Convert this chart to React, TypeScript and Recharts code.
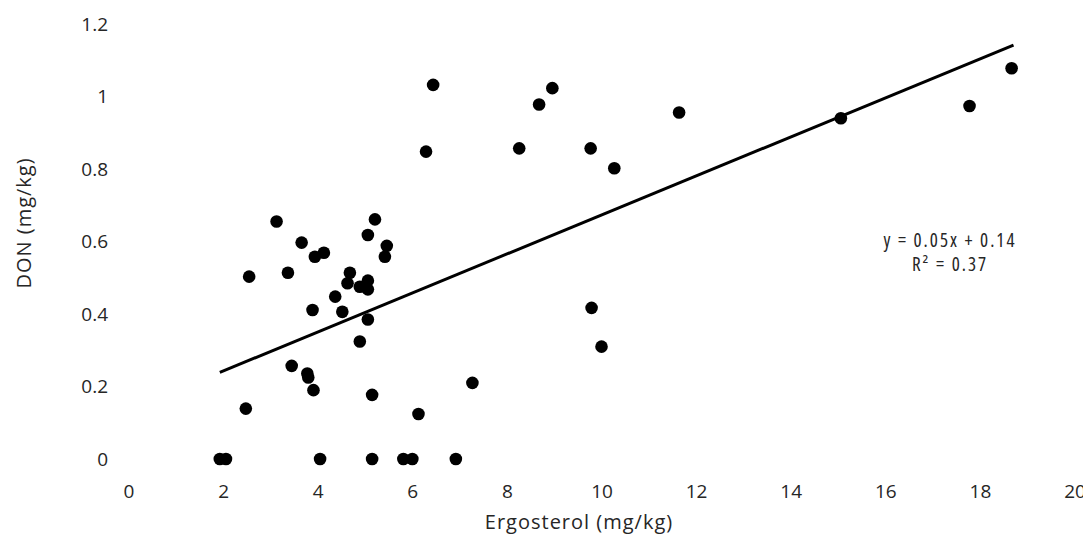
import React from "react";
import { ScatterChart, Scatter, XAxis, YAxis } from "recharts";

const ergosterol = [
  1.92, 2.05, 2.47, 2.54, 3.12, 3.36, 3.44, 3.65, 3.77, 3.79, 3.88, 3.9, 3.93, 4.04, 4.12, 4.36,
  4.51, 4.62, 4.67, 4.88, 4.88, 5.05, 5.05, 5.05, 5.05, 5.14, 5.14, 5.2, 5.41, 5.45, 5.8, 5.99,
  6.12, 6.28, 6.43, 6.91, 7.26, 8.25, 8.67, 8.95, 9.76, 9.78, 9.99, 10.26, 11.63, 15.05, 17.77, 18.66,
];
const don = [
  0, 0, 0.139, 0.503, 0.655, 0.514, 0.257, 0.597, 0.236, 0.225, 0.411, 0.19, 0.558, 0, 0.569, 0.448,
  0.406, 0.485, 0.514, 0.475, 0.324, 0.618, 0.492, 0.468, 0.385, 0.177, 0, 0.661, 0.558, 0.588, 0, 0,
  0.124, 0.848, 1.032, 0, 0.21, 0.857, 0.978, 1.023, 0.857, 0.417, 0.31, 0.802, 0.956, 0.94, 0.974, 1.078,
];
const trendX = [1.92, 18.7];
const trendY = [0.239, 1.142];
const xTicks = [0, 2, 4, 6, 8, 10, 12, 14, 16, 18, 20];
const yTicks = [0, 0.2, 0.4, 0.6, 0.8, 1, 1.2];
const xLabel = "Ergosterol (mg/kg)";
const yLabel = "DON (mg/kg)";
const eqLine1 = "y = 0.05x + 0.14";
const eqLine2 = "R\u00B2 = 0.37";

const points = ergosterol.map((x, i) => ({ x, y: don[i] }));
const trend = trendX.map((x, i) => ({ x, y: trendY[i] }));

const FONT = "'Open Sans', sans-serif";
const TXT = "#262626";

const Dot = (p: any) => <circle cx={p.cx} cy={p.cy} r={6.3} fill="#000" />;
const NoShape = () => <g />;

export default function App() {
  return (
    <div style={{ width: 1083, height: 532, fontFamily: FONT }}>
      <ScatterChart width={1083} height={532} margin={{ top: 16, right: 16, left: 0, bottom: 0 }}>
        <XAxis
          type="number"
          dataKey="x"
          domain={[0, 20]}
          ticks={xTicks}
          axisLine={false}
          tickLine={false}
          tickSize={0}
          tickMargin={26}
          height={81}
          interval={0}
          tick={{ fill: TXT, fontSize: 19, fontFamily: FONT }}
          label={{
            content: (props: any) => {
              const vb = props.viewBox || { x: 121, y: 451 };
              return (
                <text
                  x={vb.x + 450}
                  y={vb.y + 70}
                  textAnchor="middle"
                  fill={TXT}
                  fontSize={20}
                  letterSpacing={1}
                  style={{ fontFamily: FONT }}
                >
                  {xLabel}
                </text>
              );
            },
          }}
        />
        <YAxis
          type="number"
          dataKey="y"
          domain={[0, 1.2]}
          ticks={yTicks}
          axisLine={false}
          tickLine={false}
          tickSize={0}
          tickMargin={21}
          width={121}
          interval={0}
          tick={{ fill: TXT, fontSize: 19, fontFamily: FONT }}
          label={{
            content: (props: any) => {
              const vb = props.viewBox || { x: 0, y: 16 };
              const cx = vb.x + 15;
              const cy = vb.y + 199;
              return (
                <text
                  x={cx}
                  y={cy}
                  textAnchor="middle"
                  dominantBaseline="central"
                  transform={`rotate(-90 ${cx} ${cy})`}
                  fill={TXT}
                  fontSize={20}
                  letterSpacing={1}
                  style={{ fontFamily: FONT }}
                >
                  {yLabel}
                </text>
              );
            },
          }}
        />
        <Scatter data={points} fill="#000" shape={Dot} isAnimationActive={false} />
        <Scatter data={trend} line={{ stroke: "#000", strokeWidth: 3 }} shape={NoShape} isAnimationActive={false} />
        <g>
          <text x={942} y={239} textAnchor="middle" fill={TXT} fontSize={19} letterSpacing={2} style={{ fontFamily: FONT, fontStretch: "condensed" }}>
            {eqLine1}
          </text>
          <text x={942} y={263} textAnchor="middle" fill={TXT} fontSize={19} letterSpacing={2} style={{ fontFamily: FONT, fontStretch: "condensed" }}>
            {eqLine2}
          </text>
        </g>
      </ScatterChart>
    </div>
  );
}
